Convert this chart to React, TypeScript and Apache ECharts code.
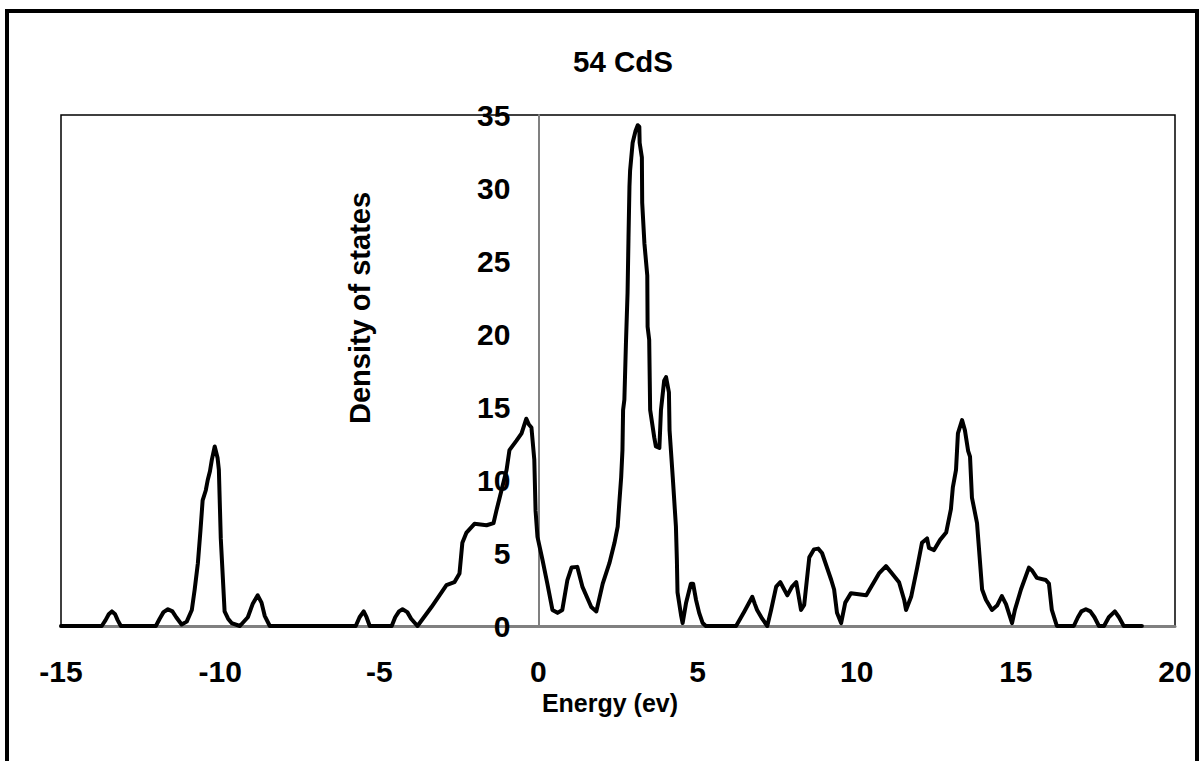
import React, { useEffect, useRef } from "react";
import * as echarts from "echarts";

const titleText = "54 CdS";
const xAxisTitle = "Energy (ev)";
const yAxisTitle = "Density of states";

const energy: number[] = [
  -15.0, -13.72, -13.6, -13.5, -13.4, -13.3, -13.22, -13.12, -12.02, -11.9, -11.78, -11.64, -11.5, -11.38,
  -11.21, -11.05, -10.89, -10.8, -10.7, -10.62, -10.55, -10.45, -10.39, -10.32, -10.26, -10.17, -10.08,
  -10.04, -9.98, -9.86, -9.75, -9.64, -9.38, -9.13, -8.98, -8.82, -8.7, -8.6, -8.44, -5.74, -5.62, -5.49,
  -5.4, -5.3, -4.61, -4.5, -4.38, -4.27, -4.12, -4.0, -3.8, -3.36, -2.89, -2.64, -2.48, -2.39, -2.26, -2.01,
  -1.63, -1.41, -1.32, -1.16, -1.0, -0.91, -0.69, -0.53, -0.38, -0.3, -0.22, -0.13, -0.09, -0.03, 0.13,
  0.28, 0.44, 0.6, 0.75, 0.91, 1.04, 1.22, 1.38, 1.66, 1.82, 2.02, 2.23, 2.39, 2.49, 2.54, 2.6, 2.64, 2.66,
  2.7, 2.75, 2.8, 2.83, 2.86, 2.88, 2.96, 3.05, 3.12, 3.17, 3.18, 3.25, 3.26, 3.33, 3.42, 3.43, 3.48, 3.51,
  3.64, 3.69, 3.8, 3.85, 3.95, 4.01, 4.1, 4.12, 4.22, 4.27, 4.32, 4.35, 4.37, 4.48, 4.53, 4.64, 4.79, 4.86,
  4.95, 5.05, 5.16, 5.26, 6.21, 6.47, 6.72, 6.8, 6.87, 7.03, 7.19, 7.31, 7.47, 7.6, 7.82, 7.97, 8.1, 8.16,
  8.25, 8.35, 8.51, 8.66, 8.79, 8.91, 9.2, 9.29, 9.38, 9.51, 9.64, 9.82, 10.3, 10.7, 10.92, 11.11, 11.33,
  11.49, 11.55, 11.71, 11.9, 12.05, 12.21, 12.27, 12.43, 12.62, 12.81, 12.96, 13.02, 13.12, 13.18, 13.31,
  13.4, 13.5, 13.56, 13.62, 13.78, 13.94, 14.06, 14.25, 14.41, 14.56, 14.69, 14.88, 14.97, 15.16, 15.41,
  15.51, 15.66, 15.94, 16.04, 16.13, 16.26, 16.29, 16.82, 16.95, 17.06, 17.2, 17.34, 17.47, 17.61, 17.77,
  17.92, 18.11, 18.24, 18.39, 18.96,
];

const dos: number[] = [
  0, 0, 0.4, 0.8, 1.0, 0.8, 0.4, 0, 0, 0.5, 0.95, 1.15, 1.0, 0.6,
  0.1, 0.3, 1.1, 2.5, 4.3, 6.5, 8.6, 9.3, 10.0, 10.6, 11.4, 12.3, 11.5,
  10.7, 6.0, 1.0, 0.5, 0.2, 0, 0.6, 1.5, 2.1, 1.6, 0.7, 0, 0, 0.6, 1.0,
  0.6, 0, 0, 0.6, 1.0, 1.15, 0.95, 0.5, 0, 1.3, 2.8, 3.0, 3.6, 5.7, 6.4, 7.0,
  6.9, 7.05, 7.9, 9.3, 10.7, 12.05, 12.7, 13.2, 14.2, 13.8, 13.6, 11.4, 7.9, 6.1, 4.5,
  2.9, 1.1, 0.9, 1.1, 3.15, 4.0, 4.05, 2.7, 1.3, 1.0, 2.9, 4.3, 5.7, 6.8, 8.4, 10.2, 12.05, 14.8,
  15.5, 19.4, 22.8, 26.6, 30.1, 31.2, 33.1, 33.9, 34.3, 34.2, 33.1, 32.1, 29.0, 26.2, 24.0, 20.5, 19.6, 14.8,
  12.9, 12.3, 12.2, 14.8, 16.8, 17.05, 16.0, 13.4, 10.2, 8.5, 6.8, 4.5, 2.3, 0.75, 0.2, 1.6, 2.9, 2.9,
  1.8, 0.9, 0.2, 0, 0, 1.0, 2.0, 1.5, 1.1, 0.5, 0, 1.1, 2.7, 3.0, 2.1, 2.7, 3.0, 2.25,
  1.1, 1.45, 4.7, 5.25, 5.3, 5.0, 3.15, 2.5, 0.9, 0.2, 1.6, 2.25, 2.1, 3.6, 4.1, 3.6, 3.0,
  1.8, 1.1, 2.0, 4.0, 5.7, 6.0, 5.35, 5.2, 5.9, 6.4, 8.0, 9.5, 10.7, 13.2, 14.1,
  13.4, 12.0, 11.6, 8.8, 7.05, 2.5, 1.8, 1.1, 1.4, 2.05, 1.5, 0.2, 1.1, 2.5, 4.0,
  3.8, 3.3, 3.15, 2.9, 1.1, 0.2, 0, 0, 0.6, 1.0, 1.15, 1.0, 0.6, 0, 0,
  0.6, 1.0, 0.6, 0, 0,
];

const FONT = "'Liberation Sans', Arial, sans-serif";
const GRID_LEFT = 61;
const GRID_RIGHT = 29;
const CHART_W = 1204;
const X_MIN = -15;
const X_MAX = 20;

export default function App() {
  const ref = useRef<HTMLDivElement>(null);
  useEffect(() => {
    if (!ref.current) return;
    const chart = echarts.init(ref.current, undefined, { renderer: "svg" });
    const data = energy.map((e, i) => [e, dos[i]]);
    const plotW = CHART_W - GRID_LEFT - GRID_RIGHT;
    // move the y axis to x = 0 on the energy scale
    const zeroOffset = -((0 - X_MIN) / (X_MAX - X_MIN)) * plotW;
    chart.setOption({
      animation: false,
      backgroundColor: "#ffffff",
      title: {
        text: titleText,
        left: 618,
        top: 41,
        textAlign: "center",
        textStyle: { fontFamily: FONT, fontWeight: "bold", fontSize: 29.5, color: "#000" },
      },
      grid: {
        left: GRID_LEFT,
        top: 115,
        right: GRID_RIGHT,
        bottom: 135,
        show: true,
        borderColor: "#000",
        borderWidth: 1.5,
        backgroundColor: "transparent",
        containLabel: false,
        outerBoundsMode: "none",
      },
      xAxis: {
        type: "value",
        min: X_MIN,
        max: X_MAX,
        interval: 5,
        name: xAxisTitle,
        nameLocation: "middle",
        nameGap: 63,
        nameTextStyle: { fontFamily: FONT, fontWeight: "bold", fontSize: 25, color: "#000", padding: [0, 16, 0, 0] },
        axisLine: { show: true, onZero: false, lineStyle: { color: "#808080", width: 3 } },
        axisTick: { show: false },
        splitLine: { show: false },
        axisLabel: { fontFamily: FONT, fontWeight: "bold", fontSize: 30, color: "#000", margin: 30 },
      },
      yAxis: {
        type: "value",
        min: 0,
        max: 35,
        interval: 5,
        position: "left",
        offset: zeroOffset,
        axisLine: { show: true, onZero: false, lineStyle: { color: "#808080", width: 2 } },
        axisTick: { show: false },
        splitLine: { show: false },
        axisLabel: { fontFamily: FONT, fontWeight: "bold", fontSize: 30, color: "#000", margin: 28 },
      },
      graphic: [
        {
          type: "rect",
          shape: { x: 7, y: 11, width: 1190, height: 800 },
          style: { fill: "none", stroke: "#000", lineWidth: 4 },
          silent: true,
        },
        {
          type: "text",
          x: 360,
          y: 308,
          rotation: Math.PI / 2,
          silent: true,
          style: {
            text: yAxisTitle,
            fontFamily: FONT,
            fontWeight: "bold",
            fontSize: 29,
            fill: "#000",
            textAlign: "center",
            textVerticalAlign: "middle",
          },
        },
      ],
      series: [
        {
          type: "line",
          data,
          showSymbol: false,
          smooth: false,
          lineStyle: { color: "#000", width: 4, join: "round", cap: "round" },
          itemStyle: { color: "#000" },
        },
      ],
    });
    return () => chart.dispose();
  }, []);
  return (
    <div
      ref={ref}
      style={{ position: "fixed", left: 0, top: 0, width: 1204, height: 761, background: "#fff" }}
    />
  );
}
